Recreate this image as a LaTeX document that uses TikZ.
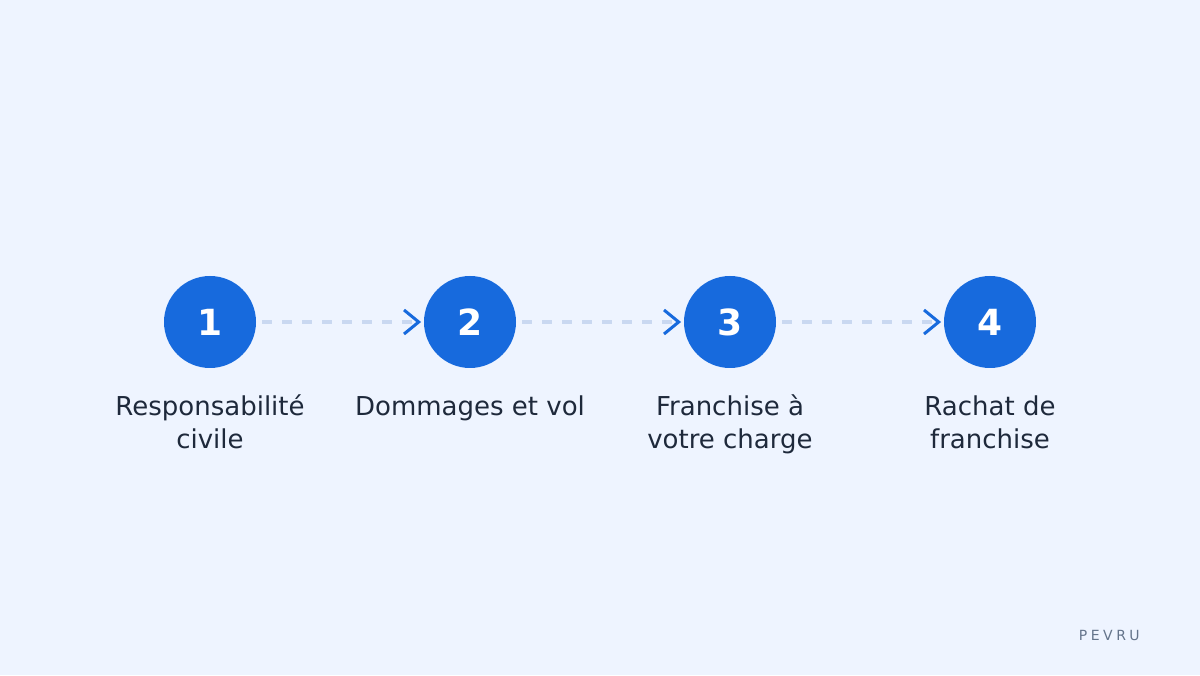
\documentclass[tikz,border=0pt]{standalone}
\usepackage{fontspec}
\setmainfont{DejaVu Sans}
\newfontfamily\brandfont[LetterSpace=25]{DejaVu Sans}
\usetikzlibrary{arrows.meta,positioning}
\definecolor{bgblue}{HTML}{EEF4FF}
\definecolor{stepblue}{HTML}{176ADD}
\definecolor{dashblue}{HTML}{C9D8F1}
\definecolor{labelink}{HTML}{1E293B}
\definecolor{brandgray}{HTML}{64748B}
\tikzset{
  stepdisc/.style={circle,fill=stepblue,minimum size=69pt,inner sep=0pt,text=white,
    font=\fontsize{27}{27}\selectfont\bfseries},
  steplabel/.style={align=center,text=labelink,inner sep=0pt,anchor=base,
    font=\fontsize{19.5}{24.3}\selectfont},
  link/.style={draw=dashblue,line width=3pt,dash pattern=on 7.5pt off 7.5pt,
    shorten <=4.5pt,shorten >=2pt,
    -{Straight Barb[color=stepblue,line width=2.25pt,length=11pt,width=18pt]}}
}
\begin{document}
\begin{tikzpicture}[x=0.75pt,y=0.75pt]
\useasboundingbox[fill=bgblue] (0,0) rectangle (1200,675);
% \draw[help lines] (0,0) grid (1200,675);
\node (n1) [stepdisc] at (210,353) {1};
\node (n2) [stepdisc] at (470,353) {2};
\node (n3) [stepdisc] at (730,353) {3};
\node (n4) [stepdisc] at (990,353) {4};
%
\draw[link] (n1) -- (n2);
\draw[link] (n2) -- (n3);
\draw[link] (n3) -- (n4);
%
% base = last line, so two-line labels sit one line lower
\node (l1) [steplabel] at (210,226.8) {Responsabilité\\civile};
\node (l2) [steplabel] at (470,259.2) {Dommages et vol};
\node (l3) [steplabel] at (730,226.8) {Franchise à\\votre charge};
\node (l4) [steplabel] at (990,226.8) {Rachat de\\franchise};
%
\node (brand) [anchor=base east,inner sep=0pt,text=brandgray,
  font=\brandfont\fontsize{10.5}{10.5}\selectfont] at (1140,34) {PEVRU};
\end{tikzpicture}
\end{document}
